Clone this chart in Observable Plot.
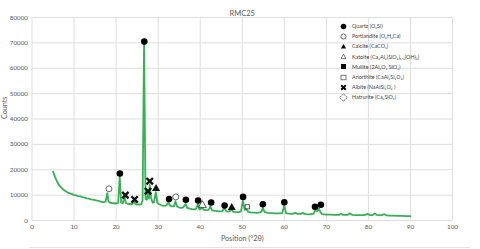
<!DOCTYPE html>
<html>
<head>
<meta charset="utf-8">
<script src="https://cdn.jsdelivr.net/npm/d3@7"></script>
<script src="https://cdn.jsdelivr.net/npm/@observablehq/plot@0.6"></script>
<style>
  html, body { margin: 0; padding: 0; background: #fff; }
  #wrap { position: relative; width: 480px; height: 249px; font-family: Lato, "Open Sans", sans-serif; }
  #legend { position: absolute; left: 339px; top: 21px; font-size: 5.4px; color: #404040; }
  #legend .row { display: flex; align-items: center; height: 10.2px; white-space: nowrap; }
  #legend svg { width: 9px; height: 9px; margin-right: 4px; flex: none; }
  #bottomline { position: absolute; left: 29px; top: 247px; width: 441px; height: 0; border-top: 1px solid #e4e4e4; }
</style>
</head>
<body>
<div id="wrap"></div>
<script>
const title = "RMC25";
const xLabel = "Position (°2θ)";
const yLabel = "Counts";
const xTicks = [0, 10, 20, 30, 40, 50, 60, 70, 80, 90, 100];
const yTicks = [0, 10000, 20000, 30000, 40000, 50000, 60000, 70000, 80000];

const positions = [5.0,5.5,6.0,6.5,7.0,7.5,8.0,8.5,9.0,9.5,10.0,10.5,11.0,11.5,12.0,12.5,13.0,13.5,14.0,14.5,15.0,15.5,16.0,16.5,17.0,17.5,17.9,18.2,18.6,19.0,19.5,20.0,20.5,20.85,21.2,21.6,22.0,22.3,22.8,23.3,23.8,24.3,24.6,25.0,25.5,26.0,26.3,26.65,27.0,27.3,27.6,27.8,28.0,28.3,28.7,29.0,29.45,29.8,30.2,30.8,31.4,32.0,32.4,32.8,33.3,33.8,34.1,34.5,35.0,35.5,36.0,36.55,36.9,37.5,38.0,38.5,39.0,39.45,39.8,40.45,40.9,41.5,42.0,42.45,42.8,43.5,44.0,44.6,45.2,45.8,46.2,46.8,47.5,47.9,48.5,49.2,49.7,50.15,50.6,51.0,51.4,52.0,52.8,53.5,54.2,54.6,54.9,55.3,56.0,57.0,58.0,59.0,59.5,60.0,60.4,61.0,62.0,62.6,63.2,64.0,64.4,65.0,66.0,67.0,67.4,67.8,68.2,68.6,69.0,70.0,71.0,72.0,73.0,73.5,74.0,75.0,75.6,76.2,77.0,78.0,79.0,79.9,80.4,81.0,81.5,82.0,83.0,83.8,84.3,85.0,86.0,87.0,88.0,89.0,90.0];
const counts = [19300,17000,15200,13800,12900,12100,11500,11000,10700,10400,10100,9900,9600,9500,9200,9000,8700,8600,8300,8200,8000,7800,7700,7300,7200,7400,10800,7500,7000,6900,6800,6700,7000,17200,7000,6800,9600,6900,6600,6500,6400,7600,6500,6300,6300,6500,8000,70000,8500,8200,10500,8600,14000,9000,7000,7200,11200,7000,6400,6000,5800,6000,7200,5900,5600,5700,7600,5500,5100,5000,5200,6500,5000,4700,4500,4400,4600,6500,4400,4900,4200,4100,4200,5600,4000,3800,3700,3600,3700,5000,3600,3500,4200,3400,3300,3300,3600,7800,4200,4500,3400,3200,3100,3000,3200,3600,5000,3400,3000,2900,2800,2800,2900,6000,2900,2700,2600,3000,2600,2600,3000,2500,2400,2700,4200,3600,4800,3300,2500,2300,2300,2200,2200,2700,2200,2200,2800,2200,2100,2100,2100,2600,2100,2100,2800,2200,2000,2500,2000,1900,1900,1800,1800,1700,1700];

const quartzPos = [20.9, 26.7, 32.6, 36.6, 39.5, 42.6, 45.8, 50.2, 54.9, 60.0, 67.3, 68.7];
const quartzCounts = [18500, 70500, 8500, 8150, 7900, 7100, 5900, 9300, 6400, 7200, 5400, 6200];
const portlanditePos = [18.3, 34.2];
const portlanditeCounts = [12500, 9300];
const calcitePos = [29.5, 47.5];
const calciteCounts = [12500, 5100];
const katoitePos = [40.5];
const katoiteCounts = [6000];
const anorthitePos = [51.2];
const anorthiteCounts = [5400];
const albitePos = [22.2, 24.4, 27.6, 28.0];
const albiteCounts = [10000, 8300, 11550, 15500];

const legendNames = [
  "Quartz (O₂Si)",
  "Portlandite (O₂H₂Ca)",
  "Calcite (CaCO₃)",
  "Katoite (Ca₃Al₂(SiO₄)₁.₅(OH)₆)",
  "Mullite (2Al₂O₃ SiO₂)",
  "Anorthite (CaAl₂Si₂O₈)",
  "Albite (NaAlSi₃O₈ )",
  "Hatrurite (Ca₃SiO₅)"
];

const pattern = positions.map((x, i) => ({x, y: counts[i]}));
const pts = (xs, ys) => xs.map((x, i) => ({x, y: ys[i]}));

const plot = Plot.plot({
  width: 480,
  height: 249,
  marginLeft: 31.5,
  marginRight: 28,
  marginTop: 17,
  marginBottom: 29,
  style: {fontFamily: "Lato, 'Open Sans', sans-serif", fontSize: "6px", color: "#595959", background: "#fff"},
  x: {domain: [0, 100], ticks: xTicks, label: null},
  y: {domain: [0, 80000], ticks: yTicks, label: null},
  marks: [
    Plot.gridX(xTicks, {stroke: "#dedede", strokeOpacity: 1}),
    Plot.gridY(yTicks, {stroke: "#dedede", strokeOpacity: 1}),
    Plot.axisX({ticks: xTicks, tickSize: 0, tickPadding: 4, tickFormat: d => String(d), fill: "#595959", fontSize: 6.3, label: null}),
    Plot.axisY({ticks: yTicks, tickSize: 0, tickPadding: 4, tickFormat: d => String(d), fill: "#595959", fontSize: 6.3, label: null}),
    Plot.text([xLabel], {frameAnchor: "bottom", dy: 20, fontSize: 7.2, fill: "#595959"}),
    Plot.text([yLabel], {frameAnchor: "left", dx: -27, rotate: -90, fontSize: 7.2, fill: "#595959"}),
    Plot.line(pattern, {x: "x", y: "y", stroke: "#35b155", strokeWidth: 1.8, strokeLinejoin: "round"}),
    Plot.dot(pts(quartzPos, quartzCounts), {x: "x", y: "y", symbol: "circle", r: 3.3, fill: "#000"}),
    Plot.dot(pts(portlanditePos, portlanditeCounts), {x: "x", y: "y", symbol: "circle", r: 3, fill: "#fff", stroke: "#555", strokeWidth: 0.9}),
    Plot.dot(pts(calcitePos, calciteCounts), {x: "x", y: "y", symbol: "triangle", r: 3, fill: "#111"}),
    Plot.dot(pts(katoitePos, katoiteCounts), {x: "x", y: "y", symbol: "triangle", r: 3, fill: "none", stroke: "#444", strokeWidth: 0.9}),
    Plot.dot(pts(anorthitePos, anorthiteCounts), {x: "x", y: "y", symbol: "square", r: 2.4, fill: "none", stroke: "#444", strokeWidth: 0.9}),
    Plot.dot(pts(albitePos, albiteCounts), {x: "x", y: "y", symbol: "times", r: 3, stroke: "#111", strokeWidth: 2.4}),
    Plot.text([title], {frameAnchor: "top", dy: -7, fontSize: 7.5, fill: "#595959"})
  ]
});

const wrap = document.getElementById("wrap");
wrap.appendChild(plot);

const symbolSvg = [
  '<circle cx="4.5" cy="4.5" r="2.8" fill="#000"/>',
  '<circle cx="4.5" cy="4.5" r="2.6" fill="none" stroke="#444" stroke-width="0.8"/>',
  '<path d="M4.5,2 L7,6.6 L2,6.6 Z" fill="#000"/>',
  '<path d="M4.5,2 L7,6.6 L2,6.6 Z" fill="none" stroke="#444" stroke-width="0.7"/>',
  '<rect x="2" y="2" width="5" height="5" fill="#000"/>',
  '<rect x="2" y="2.2" width="5" height="4.6" fill="none" stroke="#444" stroke-width="0.7"/>',
  '<path d="M2.2,2.2 L6.8,6.8 M6.8,2.2 L2.2,6.8" stroke="#000" stroke-width="2"/>',
  '<path d="M3.3,2.2 A1.2,1.2 0 0 1 5.7,2.2 L6.8,3.3 A1.2,1.2 0 0 1 6.8,5.7 L5.7,6.8 A1.2,1.2 0 0 1 3.3,6.8 L2.2,5.7 A1.2,1.2 0 0 1 2.2,3.3 Z" fill="none" stroke="#444" stroke-width="0.6"/>'
];
const legend = document.createElement("div");
legend.id = "legend";
legendNames.forEach((name, i) => {
  const row = document.createElement("div");
  row.className = "row";
  row.innerHTML = '<svg viewBox="0 0 9 9">' + symbolSvg[i] + '</svg><span>' + name + '</span>';
  legend.appendChild(row);
});
wrap.appendChild(legend);
const bl = document.createElement("div");
bl.id = "bottomline";
wrap.appendChild(bl);
</script>
</body>
</html>
